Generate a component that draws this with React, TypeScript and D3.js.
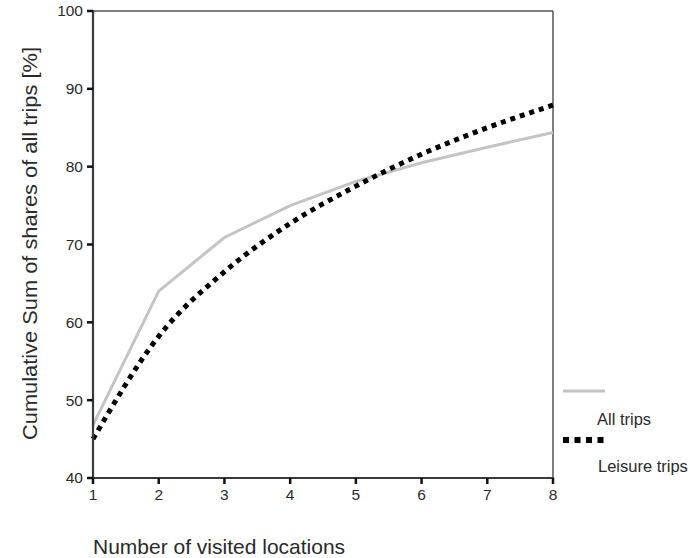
import React from "react";
import * as d3 from "d3";

const locations = [1, 2, 3, 4, 5, 6, 7, 8];
const allTrips = [46.8, 64.0, 70.9, 75.0, 78.1, 80.5, 82.5, 84.4];
const leisureTrips = [45.0, 58.2, 66.5, 72.7, 77.5, 81.6, 85.0, 87.9];
const yTicks = [40, 50, 60, 70, 80, 90, 100];
const xTicks = [1, 2, 3, 4, 5, 6, 7, 8];
const legendLabels = ["All trips", "Leisure trips"];

const W = 690;
const H = 558;
const left = 93;
const right = 553;
const top = 11;
const bottom = 478;

export default function App() {
  const x = d3.scaleLinear().domain([1, 8]).range([left, right]);
  const y = d3.scaleLinear().domain([40, 100]).range([bottom, top]);
  const lineLin = d3
    .line<number>()
    .x((_, i) => x(locations[i]))
    .y((d) => y(d));
  const lineSmooth = d3
    .line<number>()
    .x((_, i) => x(locations[i]))
    .y((d) => y(d))
    .curve(d3.curveMonotoneX);
  const font = "Liberation Sans, Arial, sans-serif";
  const axisColor = "#3a3a3a";
  const textColor = "#2a2a2a";
  return (
    <svg
      width={W}
      height={H}
      style={{ position: "absolute", left: 0, top: 0, background: "#fff" }}
      fontFamily={font}
    >
      <rect x={0} y={0} width={W} height={H} fill="#fff" />
      {/* frame */}
      <line x1={left} x2={right} y1={top} y2={top} stroke="#555" strokeWidth={1.5} />
      <line x1={right} x2={right} y1={top} y2={bottom} stroke="#555" strokeWidth={1.5} />
      {/* data */}
      <path d={lineLin(allTrips) || ""} fill="none" stroke="#c4c4c4" strokeWidth={3} />
      <path
        d={lineSmooth(leisureTrips) || ""}
        fill="none"
        stroke="#000"
        strokeWidth={5}
        strokeDasharray="5,5"
      />
      {/* axes */}
      <line x1={left} x2={left} y1={top - 1} y2={bottom + 1} stroke={axisColor} strokeWidth={2.2} />
      <line x1={left - 1} x2={right + 1} y1={bottom} y2={bottom} stroke={axisColor} strokeWidth={2.2} />
      {yTicks.map((t) => (
        <g key={"y" + t}>
          <line x1={left - 6} x2={left} y1={y(t)} y2={y(t)} stroke="#111" strokeWidth={2.5} />
          <text
            x={left - 10}
            y={y(t)}
            dy="0.35em"
            textAnchor="end"
            fontSize={15.5}
            fill={textColor}
          >
            {t}
          </text>
        </g>
      ))}
      {xTicks.map((t) => (
        <g key={"x" + t}>
          <line x1={x(t)} x2={x(t)} y1={bottom} y2={bottom + 6} stroke="#111" strokeWidth={2.5} />
          <text x={x(t)} y={bottom + 22} textAnchor="middle" fontSize={15.5} fill={textColor}>
            {t}
          </text>
        </g>
      ))}
      <text
        transform={`translate(37,243.5) rotate(-90)`}
        textAnchor="middle"
        fontSize={20}
        textLength={393}
        lengthAdjust="spacingAndGlyphs"
        fill={textColor}
      >
        Cumulative Sum of shares of all trips [%]
      </text>
      <text x={93} y={554} fontSize={21} fill={textColor}>
        Number of visited locations
      </text>
      {/* legend */}
      <line x1={563} x2={605} y1={391} y2={391} stroke="#c4c4c4" strokeWidth={3} />
      <text x={597} y={425} fontSize={16.5} fill={textColor}>
        {legendLabels[0]}
      </text>
      <line
        x1={563}
        x2={605}
        y1={440}
        y2={440}
        stroke="#000"
        strokeWidth={6}
        strokeDasharray="6,5.5"
      />
      <text x={598} y={472} fontSize={16.5} fill={textColor}>
        {legendLabels[1]}
      </text>
    </svg>
  );
}
